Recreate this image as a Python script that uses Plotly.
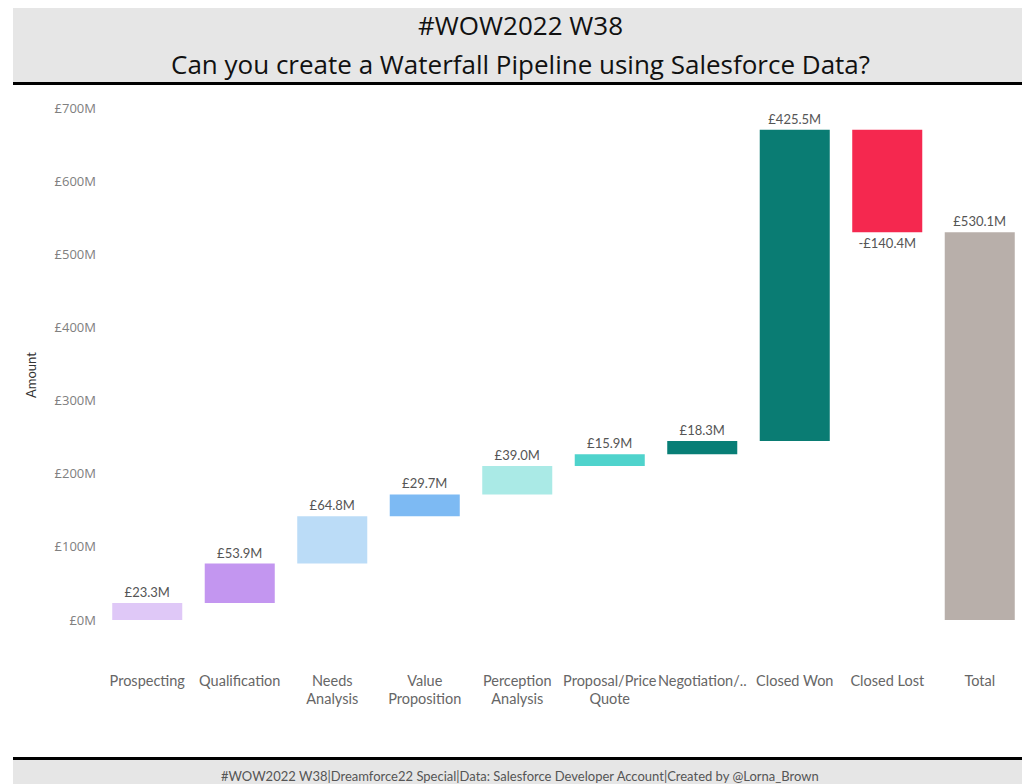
import plotly.graph_objects as go
import numpy as np

categories = ["Prospecting", "Qualification", "Needs<br>Analysis", "Value<br>Proposition",
              "Perception<br>Analysis", "Proposal/Price<br>Quote", "Negotiation/..",
              "Closed Won", "Closed Lost", "Total"]
step_values = [23.3, 53.9, 64.8, 29.7, 39.0, 15.9, 18.3, 425.5, -140.4]
total_value = 530.1
colors = ["#DFC8F7", "#C396F0", "#BBDCF7", "#7DBAF3", "#AAEAE6", "#4FD3CC",
          "#087E76", "#0A7C73", "#F5284F", "#B8AFAA"]
y_tickvals = [0, 100, 200, 300, 400, 500, 600, 700]
y_ticktext = ["£0M", "£100M", "£200M", "£300M", "£400M", "£500M", "£600M", "£700M"]

values = step_values + [total_value]
bases = list(np.concatenate([[0], np.cumsum(step_values)[:-1]])) + [0]
labels = [("-£%.1fM" % abs(v)) if v < 0 else ("£%.1fM" % v) for v in values]

OFF = 8  # page body margin
W, H = 1030 - OFF, 784 - OFF
L, R, T, B = 101 - OFF, 4, 90 - OFF, 119
PW = W - L - R
PH = H - T - B


def px(x):
    return (x - OFF - L) / PW


def py(y):
    return (H - B - (y - OFF)) / PH


fig = go.Figure()
fig.add_trace(go.Bar(
    x=categories, y=values, base=bases,
    marker=dict(color=colors, line=dict(width=0)),
    width=0.757,
    text=labels, textposition="outside", cliponaxis=False,
    textfont=dict(family="Lato, sans-serif", size=13, color="#555555"),
    hoverinfo="skip",
))

shapes = [
    dict(type="rect", xref="paper", yref="paper", x0=px(13), x1=px(1030), y0=py(5), y1=py(82),
         fillcolor="#E6E6E6", line=dict(width=0), layer="below"),
    dict(type="rect", xref="paper", yref="paper", x0=px(13), x1=px(1030), y0=py(82), y1=py(85),
         fillcolor="#000000", line=dict(width=0)),
    dict(type="rect", xref="paper", yref="paper", x0=px(13), x1=px(1030), y0=py(760), y1=py(784),
         fillcolor="#E6E6E6", line=dict(width=0), layer="below"),
    dict(type="rect", xref="paper", yref="paper", x0=px(13), x1=px(1030), y0=py(757), y1=py(760),
         fillcolor="#000000", line=dict(width=0)),
]

annotations = [
    dict(text="#WOW2022 W38", xref="paper", yref="paper", x=px(520), y=py(25),
         showarrow=False, xanchor="center", yanchor="middle",
         font=dict(family="Open Sans, sans-serif", size=26, color="#111111")),
    dict(text="Can you create a Waterfall Pipeline using Salesforce Data?", xref="paper", yref="paper",
         x=px(520), y=py(64), showarrow=False, xanchor="center", yanchor="middle",
         font=dict(family="Open Sans, sans-serif", size=26, color="#111111")),
    dict(text="#WOW2022 W38|Dreamforce22 Special|Data: Salesforce Developer Account|Created by @Lorna_Brown",
         xref="paper", yref="paper", x=px(520), y=py(776), showarrow=False,
         xanchor="center", yanchor="middle",
         font=dict(family="Lato, sans-serif", size=13, color="#555555")),
    dict(text="Amount", xref="paper", yref="paper", x=px(31), y=py(375), showarrow=False,
         textangle=-90, xanchor="center", yanchor="middle",
         font=dict(family="Lato, sans-serif", size=13, color="#333333")),
]

fig.update_layout(
    width=W, height=H,
    margin=dict(l=L, r=R, t=T, b=B),
    paper_bgcolor="white", plot_bgcolor="white",
    showlegend=False,
    shapes=shapes, annotations=annotations,
    bargap=0.243,
)
fig.update_xaxes(showgrid=False, showline=False, zeroline=False, ticks="",
                 tickangle=0, ticklabelstandoff=5,
                 tickfont=dict(family="Lato, sans-serif", size=14.5, color="#666666"),
                 range=[-0.5, 9.5], fixedrange=True)
fig.update_yaxes(showgrid=False, showline=False, zeroline=False, ticks="",
                 range=[(620 - 665) / 0.7314, (620 - 90) / 0.7314],
                 tickvals=y_tickvals, ticktext=y_ticktext, ticklabelstandoff=4,
                 tickfont=dict(family="Open Sans, sans-serif", size=13, color="#808080"),
                 fixedrange=True)

fig.write_html("out.html")
